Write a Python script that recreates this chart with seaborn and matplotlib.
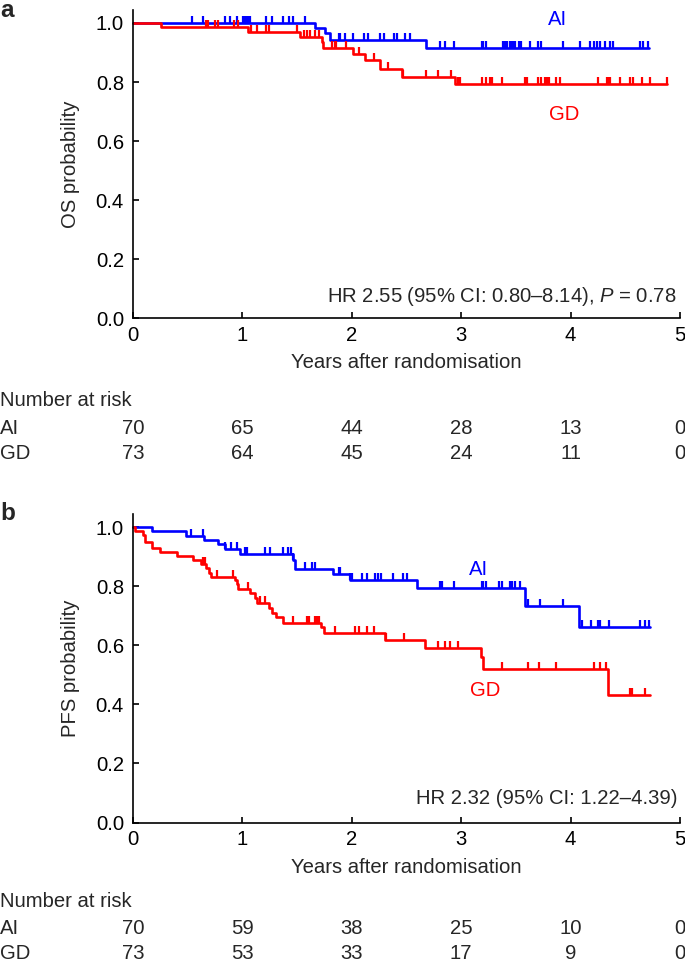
import numpy as np
import matplotlib
matplotlib.use("Agg")
import matplotlib.pyplot as plt
import matplotlib.transforms as mtransforms
import seaborn as sns

# ---------------- data ----------------
years = [0, 1, 2, 3, 4, 5]

# Overall survival (panel a): step times and survival values (last entry = end of follow-up)
os_ai_t = [0, 1.66, 1.755, 1.80, 2.68, 4.72]
os_ai_s = [1.0, 0.982, 0.965, 0.942, 0.914, 0.914]
os_gd_t = [0, 0.26, 1.05, 1.53, 1.725, 1.74, 2.01, 2.12, 2.26, 2.46, 2.94, 4.88]
os_gd_s = [1.0, 0.985, 0.968, 0.953, 0.934, 0.914, 0.894, 0.874, 0.844, 0.818, 0.792, 0.792]

os_ai_cens = [0.54, 0.64, 0.84, 0.89, 0.95, 1.01, 1.02, 1.04, 1.05, 1.07, 1.22, 1.27, 1.37,
              1.43, 1.46, 1.57, 1.88, 1.89, 1.94, 2.01, 2.11, 2.15, 2.26, 2.29, 2.39, 2.41,
              2.49, 2.53, 2.81, 2.85, 2.93, 3.19, 3.20, 3.23, 3.38, 3.40, 3.42, 3.45, 3.46,
              3.48, 3.49, 3.53, 3.55, 3.63, 3.70, 3.73, 3.93, 4.09, 4.18, 4.21, 4.24, 4.27,
              4.31, 4.36, 4.39, 4.63, 4.66, 4.71]
os_gd_cens = [0.67, 0.69, 0.75, 0.78, 0.92, 0.96, 1.08, 1.13, 1.22, 1.24, 1.50, 1.56, 1.59,
              1.62, 1.66, 1.70, 1.82, 1.85, 1.86, 1.95, 2.07, 2.20, 2.33, 2.47, 2.68, 2.79,
              2.91, 2.97, 2.99, 3.19, 3.23, 3.26, 3.28, 3.37, 3.58, 3.60, 3.70, 3.73, 3.77,
              3.78, 3.80, 3.87, 3.90, 4.25, 4.33, 4.35, 4.36, 4.45, 4.54, 4.57, 4.65, 4.73,
              4.88]

# Progression-free survival (panel b)
pfs_ai_t = [0, 0.17, 0.484, 0.65, 0.78, 0.84, 0.98, 1.46, 1.48, 1.83, 1.98, 2.60, 3.58, 4.08, 4.73]
pfs_ai_s = [1.0, 0.987, 0.972, 0.957, 0.942, 0.925, 0.911, 0.889, 0.860, 0.841, 0.821, 0.793,
            0.733, 0.663, 0.663]
pfs_gd_t = [0, 0.02, 0.09, 0.11, 0.17, 0.25, 0.405, 0.55, 0.62, 0.67, 0.695, 0.71, 0.93, 0.95,
            0.96, 1.07, 1.115, 1.13, 1.24, 1.27, 1.31, 1.37, 1.72, 1.745, 2.30, 2.67, 3.18,
            3.195, 4.345, 4.73]
pfs_gd_s = [1.0, 0.987, 0.974, 0.949, 0.931, 0.917, 0.903, 0.889, 0.876, 0.861, 0.846, 0.833,
            0.821, 0.808, 0.790, 0.776, 0.759, 0.745, 0.728, 0.711, 0.697, 0.677, 0.663, 0.641,
            0.618, 0.592, 0.562, 0.519, 0.432, 0.432]

pfs_ai_cens = [0.53, 0.64, 0.84, 0.90, 0.95, 1.02, 1.04, 1.21, 1.25, 1.37, 1.42, 1.44, 1.46,
               1.57, 1.64, 1.66, 1.88, 1.89, 1.98, 2.00, 2.09, 2.14, 2.21, 2.24, 2.27, 2.38,
               2.47, 2.50, 2.81, 2.82, 2.93, 3.19, 3.20, 3.23, 3.35, 3.37, 3.45, 3.46, 3.49,
               3.54, 3.61, 3.72, 3.93, 4.10, 4.19, 4.25, 4.27, 4.35, 4.63, 4.68, 4.72]
pfs_gd_cens = [0.64, 0.66, 0.77, 0.91, 1.05, 1.16, 1.21, 1.465, 1.59, 1.61, 1.66, 1.68, 1.70,
               1.85, 2.03, 2.07, 2.14, 2.20, 2.31, 2.48, 2.79, 2.85, 2.90, 2.97, 3.37, 3.61,
               3.71, 3.87, 4.21, 4.27, 4.32, 4.54, 4.56, 4.68]

risk_os_ai = [70, 65, 44, 28, 13, 0]
risk_os_gd = [73, 64, 45, 24, 11, 0]
risk_pfs_ai = [70, 59, 38, 25, 10, 0]
risk_pfs_gd = [73, 53, 33, 17, 9, 0]

groups = ["AI", "GD"]
colors = {"AI": "#0000FF", "GD": "#FF0000"}

# ---------------- style ----------------
sns.set_style("ticks")
plt.rcParams["font.family"] = ["Liberation Sans", "DejaVu Sans"]
plt.rcParams["mathtext.fontset"] = "custom"
plt.rcParams["mathtext.rm"] = "Liberation Sans"
plt.rcParams["mathtext.it"] = "Liberation Sans:italic"
FS = 14.6

W, H = 685, 963
fig = plt.figure(figsize=(W / 100, H / 100), dpi=100)


def fx(px):
    return px / W


def fy(py):
    return 1 - py / H


tick_marker = [(0, 0), (0, 1)]


def surv_at(t_steps, s_steps, times):
    t_steps = np.asarray(t_steps)
    s_steps = np.asarray(s_steps)
    idx = np.searchsorted(t_steps, np.asarray(times), side="right") - 1
    return s_steps[idx]


def draw_panel(ax, curves, ylabel):
    for g, (t, s, cens) in curves.items():
        c = colors[g]
        sns.lineplot(x=t, y=s, ax=ax, color=c, lw=1.9, drawstyle="steps-post",
                     estimator=None, sort=False, clip_on=False)
        cy = surv_at(t, s, cens)
        sns.lineplot(x=cens, y=cy, ax=ax, color=c, linestyle="", marker=tick_marker,
                     markersize=10, markeredgewidth=1.6, markeredgecolor=c,
                     estimator=None, sort=False, clip_on=False)
    ax.set_xlim(0, 5)
    ax.set_ylim(0, 1.045)
    ax.set_xticks(years)
    ax.set_xticklabels([str(y) for y in years])
    ax.set_yticks([0, 0.2, 0.4, 0.6, 0.8, 1.0])
    ax.set_yticklabels(["0.0", "0.2", "0.4", "0.6", "0.8", "1.0"])
    ax.tick_params(direction="in", length=4, width=1.2, labelsize=FS, colors="black")
    ax.tick_params(axis="y", pad=6.5)
    ax.tick_params(axis="x", pad=5.5)
    sns.despine(ax=ax)
    for sp in ["left", "bottom"]:
        ax.spines[sp].set_linewidth(1.2)
        ax.spines[sp].set_color("black")
    ax.set_ylabel(ylabel, fontsize=FS)
    ax.yaxis.set_label_coords(-0.097, 0.5)
    ax.set_xlabel("Years after randomisation", fontsize=FS)
    ax.xaxis.set_label_coords(0.5, -0.115)
    ax.patch.set_alpha(0)


axes_w = 547 / W
ax_a = fig.add_axes([133 / W, fy(318), axes_w, 1.045 * 295 / H])
ax_b = fig.add_axes([133 / W, fy(822.5), axes_w, 1.045 * 295.2 / H])

draw_panel(ax_a, {"AI": (os_ai_t, os_ai_s, os_ai_cens),
                  "GD": (os_gd_t, os_gd_s, os_gd_cens)}, "OS probability")
draw_panel(ax_b, {"AI": (pfs_ai_t, pfs_ai_s, pfs_ai_cens),
                  "GD": (pfs_gd_t, pfs_gd_s, pfs_gd_cens)}, "PFS probability")

# panel letters
fig.text(fx(0), fy(17), "a", fontsize=17.5, fontweight="bold", va="baseline", ha="left")
fig.text(fx(0), fy(520), "b", fontsize=17.5, fontweight="bold", va="baseline", ha="left")

# group labels on curves
fig.text(fx(558), fy(24.7), "AI", color=colors["AI"], fontsize=FS, ha="center", va="baseline")
fig.text(fx(564.5), fy(120), "GD", color=colors["GD"], fontsize=FS, ha="center", va="baseline")
fig.text(fx(478.5), fy(574.7), "AI", color=colors["AI"], fontsize=FS, ha="center", va="baseline")
fig.text(fx(485), fy(696), "GD", color=colors["GD"], fontsize=FS, ha="center", va="baseline")

# HR annotations
fig.text(fx(677), fy(302), "HR 2.55 (95% CI: 0.80\u20138.14), $P$ = 0.78", fontsize=FS,
         ha="right", va="baseline")
fig.text(fx(677), fy(804), "HR 2.32 (95% CI: 1.22\u20134.39)", fontsize=FS,
         ha="right", va="baseline")


# number at risk tables
def risk_table(ax, rows, base_nar, base_ai, base_gd):
    tr = mtransforms.blended_transform_factory(ax.transData, fig.transFigure)
    fig.text(fx(0), fy(base_nar), "Number at risk", fontsize=FS, ha="left", va="baseline")
    for g, base in zip(groups, [base_ai, base_gd]):
        fig.text(fx(0), fy(base), g, fontsize=FS, ha="left", va="baseline")
        for yr, n in zip(years, rows[g]):
            ax.text(yr, fy(base), str(n), fontsize=FS, ha="center", va="baseline",
                    transform=tr, clip_on=False)


risk_table(ax_a, {"AI": risk_os_ai, "GD": risk_os_gd}, 405.5, 434, 459)
risk_table(ax_b, {"AI": risk_pfs_ai, "GD": risk_pfs_gd}, 907, 934, 959)

fig.savefig("out.png", dpi=100)
